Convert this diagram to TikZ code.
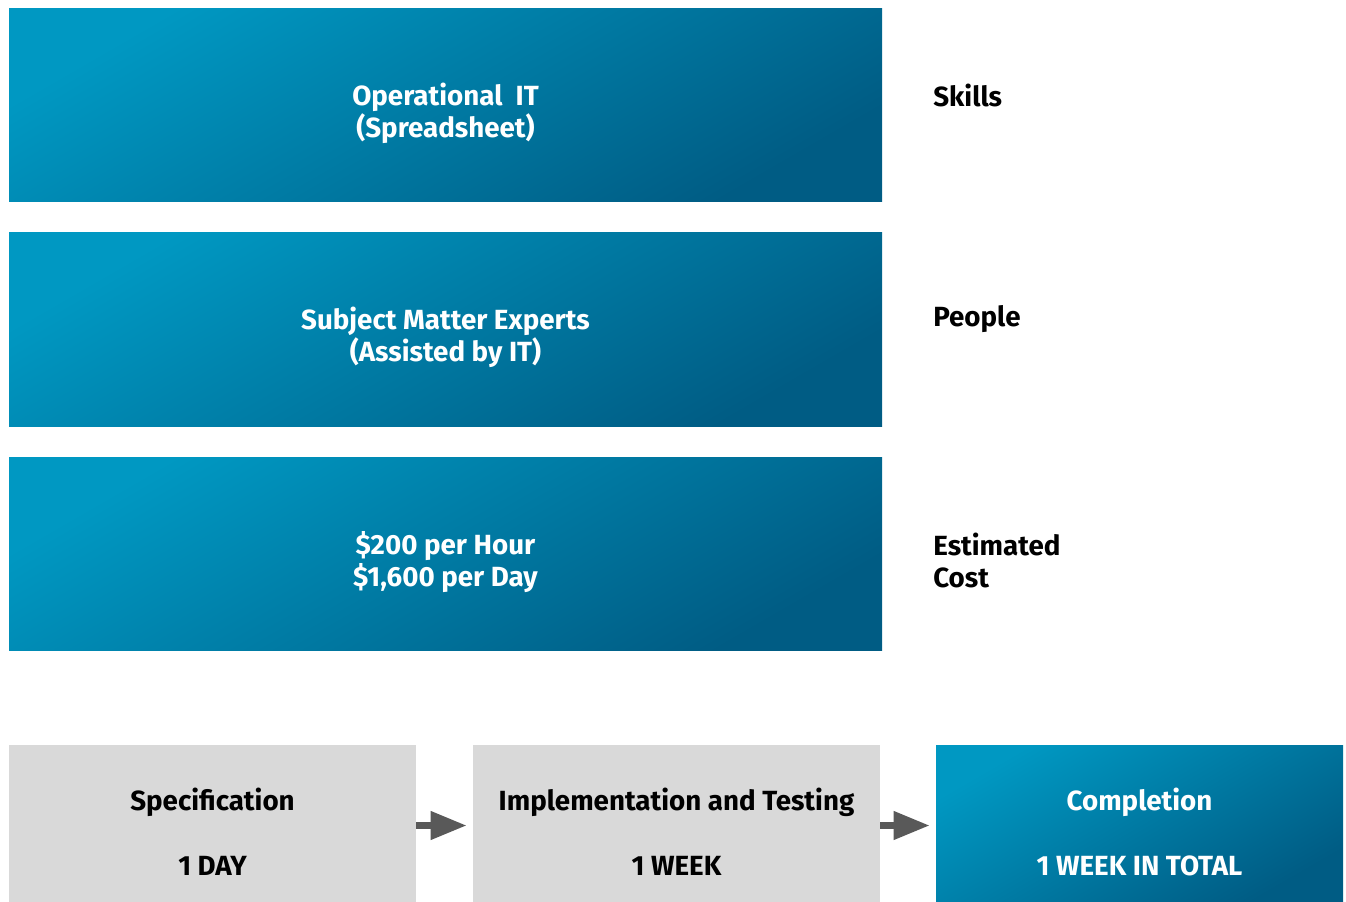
\documentclass[tikz,border=0pt]{standalone}
\usepackage{fontspec}
\setmainfont{Fira Sans}
\usetikzlibrary{arrows.meta}
\definecolor{blueA}{RGB}{0,152,194}
\definecolor{blueB}{RGB}{0,92,132}
\definecolor{grayBox}{RGB}{217,217,217}
\definecolor{arrowGray}{RGB}{89,89,89}
\tikzset{
  bluefill/.style={top color=blueA, bottom color=blueB, shading angle=30},
  topbox/.style={rectangle, inner sep=0pt, bluefill, minimum width=873*0.75pt, minimum height=193*0.75pt},
  botbox/.style={rectangle, inner sep=0pt, minimum width=407*0.75pt, minimum height=157*0.75pt},
  graybox/.style={botbox, fill=grayBox},
  label/.style={font=\bfseries\fontsize{20.8}{24}\selectfont, text=black, align=left, anchor=west, inner sep=0pt},
  btext/.style={font=\bfseries\fontsize{20.8}{24}\selectfont, inner sep=0pt},
  flowarrow/.style={draw=arrowGray, line width=7*0.75pt, -{Triangle[length=36*0.75pt, width=27*0.75pt]}, shorten >=6*0.75pt}
}
\begin{document}
\begin{tikzpicture}[x=0.75pt, y=-0.75pt]
\useasboundingbox (0,0) rectangle (1346,902);
% top boxes
\node[topbox] (b1) at (445.5,105.5) {};
\node[topbox] (b2) at (445.5,329.5) {};
\node[topbox] (b3) at (445.5,553.5) {};
\node[btext, text=white, align=center] (t1) at (445.5,113.5) {Operational~~IT\\(Spreadsheet)};
\node[btext, text=white, align=center] (t2) at (445.5,337.5) {Subject Matter Experts\\(Assisted by IT)};
\node[btext, text=white, align=center] (t3) at (445.5,562.5) {\$200 per Hour\\\$1,600 per Day};
% right labels
\node[label] (l1) at (933,95.5) {Skills};
\node[label] (l2) at (933,319.5) {People};
\node[label] (l3) at (933,560.5) {Estimated\\Cost};
% bottom boxes
\node[graybox] (spec) at (212.5,823.5) {};
\node[graybox] (impl) at (676.5,823.5) {};
\node[botbox, bluefill] (comp) at (1139.5,823.5) {};
\node[btext] (s1) at (212.5,802) {Specification};
\node[btext] (s2) at (212.5,866) {1 DAY};
\node[btext] (i1) at (676.5,802) {Implementation and Testing};
\node[btext] (i2) at (676.5,866) {1 WEEK};
\node[btext, text=white] (c1) at (1139.5,802) {Completion};
\node[btext, text=white] (c2) at (1139.5,866) {1 WEEK IN TOTAL};
% arrows
\draw[flowarrow] ([yshift=-2*0.75pt]spec.east) -- ([yshift=-2*0.75pt]impl.west);
\draw[flowarrow] ([yshift=-2*0.75pt]impl.east) -- ([yshift=-2*0.75pt]comp.west);
\end{tikzpicture}
\end{document}
